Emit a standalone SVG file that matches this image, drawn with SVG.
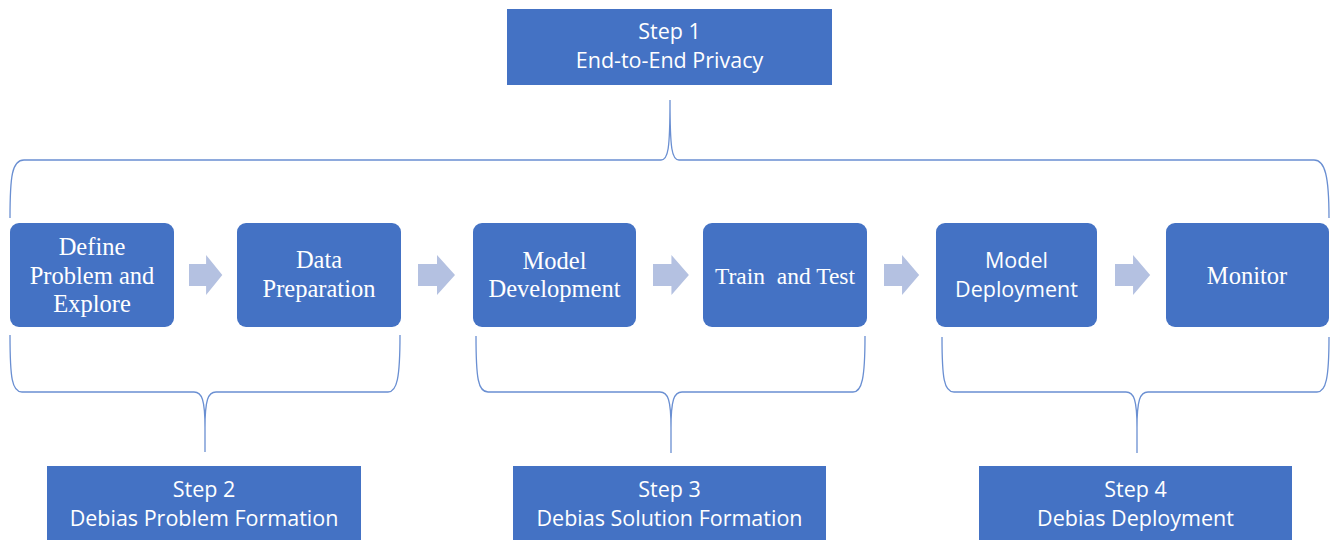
<svg xmlns="http://www.w3.org/2000/svg" width="1330" height="540" viewBox="0 0 1330 540">
<defs>
<style>
.step{fill:#4472C4;}
.proc{fill:#4472C4;}
.sans{font-family:"Open Sans","Liberation Sans",sans-serif;font-size:21.5px;fill:#FFFFFF;text-anchor:middle;}
.serif{font-family:"Liberation Serif","Times New Roman",serif;font-size:24.5px;fill:#FFFFFF;text-anchor:middle;white-space:pre;}
.brace{fill:none;stroke:#6A8FD2;stroke-width:1.3;}
.arrow{fill:#B4C1E1;}
</style>
<path id="arr" d="M0,-11 L19,-11 L19,-20 L37,0 L19,20 L19,11 L0,11 Z"/>
</defs>
<rect width="1330" height="540" fill="#FFFFFF"/>

<g id="connectors">
<path class="brace" d="M10,218 C10,176 12,160 24,160 L661,160 C668,160 670,150 670,100 C670,150 672,160 679,160 L1314,160 C1325,160 1329,176 1329,218"/>
<path class="brace" d="M10,335 C10,378 12,392 22,392 L194,392 C202,392 205,400 205,428 L205,452 L205,428 C205,400 208,392 216,392 L388,392 C397,392 400,378 400,335"/>
<path class="brace" d="M476,336 C476,378 478,392 488,392 L660,392 C668,392 671,400 671,428 L671,453 L671,428 C671,400 674,392 682,392 L853,392 C862,392 865,378 865,336"/>
<path class="brace" d="M942,337 C942,378 944,392 954,392 L1126,392 C1134,392 1137,400 1137,428 L1137,453 L1137,428 C1137,400 1140,392 1148,392 L1317,392 C1326,392 1329,378 1329,337"/>
<use href="#arr" class="arrow" transform="translate(189,275) scale(0.9,1)"/>
<use href="#arr" class="arrow" transform="translate(418,275)"/>
<use href="#arr" class="arrow" transform="translate(653,275) scale(0.97,1)"/>
<use href="#arr" class="arrow" transform="translate(884,275) scale(0.95,1)"/>
<use href="#arr" class="arrow" transform="translate(1115,275) scale(0.95,1)"/>
</g>

<g id="step1">
<rect class="step" x="507" y="9" width="325" height="76"/>
<text class="sans" x="669.5" y="39">Step 1</text>
<text class="sans" x="669.5" y="68">End-to-End Privacy</text>
</g>

<g id="define">
<rect class="proc" x="10" y="223" width="164" height="104" rx="9"/>
<text class="serif" x="92" y="255">Define</text>
<text class="serif" x="92" y="284">Problem and</text>
<text class="serif" x="92" y="312">Explore</text>
</g>

<g id="dataprep">
<rect class="proc" x="237" y="223" width="164" height="104" rx="9"/>
<text class="serif" x="319" y="268">Data</text>
<text class="serif" x="319" y="297">Preparation</text>
</g>

<g id="modeldev">
<rect class="proc" x="473" y="223" width="163" height="104" rx="9"/>
<text class="serif" x="554.5" y="269">Model</text>
<text class="serif" x="554.5" y="297">Development</text>
</g>

<g id="traintest">
<rect class="proc" x="703" y="223" width="164" height="104" rx="9"/>
<text class="serif" x="785" y="284" style="font-size:23.5px">Train  and Test</text>
</g>

<g id="modeldeploy">
<rect class="proc" x="936" y="223" width="161" height="104" rx="9"/>
<text class="sans" x="1016.5" y="268">Model</text>
<text class="sans" x="1016.5" y="297">Deployment</text>
</g>

<g id="monitor">
<rect class="proc" x="1166" y="223" width="163" height="104" rx="9"/>
<text class="serif" x="1247" y="284">Monitor</text>
</g>

<g id="step2">
<rect class="step" x="47" y="466" width="314" height="80"/>
<text class="sans" x="204" y="497">Step 2</text>
<text class="sans" x="204" y="526">Debias Problem Formation</text>
</g>

<g id="step3">
<rect class="step" x="513" y="466" width="313" height="80"/>
<text class="sans" x="669.5" y="497">Step 3</text>
<text class="sans" x="669.5" y="526">Debias Solution Formation</text>
</g>

<g id="step4">
<rect class="step" x="979" y="466" width="313" height="80"/>
<text class="sans" x="1135.5" y="497">Step 4</text>
<text class="sans" x="1135.5" y="526">Debias Deployment</text>
</g>
</svg>
